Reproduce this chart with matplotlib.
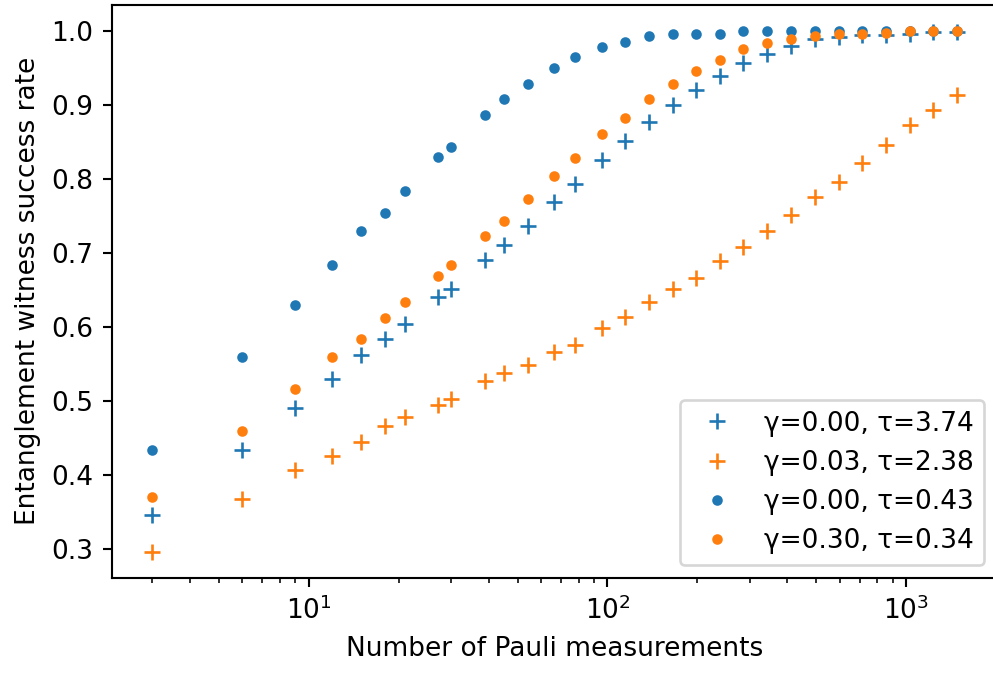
import matplotlib
matplotlib.use("Agg")
import matplotlib.pyplot as plt

# number of Pauli measurements
n_meas = [3, 6, 9, 12, 15, 18, 21, 27, 30, 39, 45, 54, 66, 78, 96, 114, 138,
          165, 198, 237, 285, 342, 411, 495, 594, 711, 855, 1026, 1230, 1479]

# success rates
rate_g000_t374 = [0.346, 0.434, 0.491, 0.530, 0.562, 0.584, 0.604, 0.640, 0.651,
                  0.690, 0.711, 0.736, 0.768, 0.793, 0.825, 0.851, 0.876, 0.900,
                  0.920, 0.939, 0.956, 0.969, 0.979, 0.988, 0.991, 0.994, 0.994,
                  0.995, 0.998, 0.998]
rate_g003_t238 = [0.296, 0.367, 0.406, 0.426, 0.445, 0.466, 0.478, 0.494, 0.502,
                  0.527, 0.538, 0.548, 0.566, 0.576, 0.598, 0.613, 0.634, 0.651,
                  0.666, 0.689, 0.708, 0.729, 0.751, 0.775, 0.796, 0.821, 0.846,
                  0.872, 0.893, 0.913]
rate_g000_t043 = [0.434, 0.559, 0.629, 0.683, 0.729, 0.754, 0.783, 0.829, 0.843,
                  0.886, 0.907, 0.928, 0.950, 0.964, 0.978, 0.985, 0.993, 0.995,
                  0.995, 0.996, 1.0, 1.0, 1.0, 1.0, 1.0, 1.0, 1.0, 1.0, 1.0, 1.0]
rate_g030_t034 = [0.370, 0.459, 0.516, 0.559, 0.583, 0.612, 0.633, 0.669, 0.683,
                  0.722, 0.743, 0.772, 0.804, 0.828, 0.861, 0.882, 0.907, 0.928,
                  0.946, 0.960, 0.975, 0.983, 0.989, 0.993, 0.996, 0.996, 0.997,
                  1.0, 1.0, 1.0]

labels = ["γ=0.00, τ=3.74", "γ=0.03, τ=2.38", "γ=0.00, τ=0.43", "γ=0.30, τ=0.34"]

dpi = 190
fig = plt.figure(figsize=(993 / dpi, 673 / dpi), dpi=dpi)
ax = fig.add_axes([112 / 993, 95 / 673, 885.5 / 993, 573.5 / 673])

ax.plot(n_meas, rate_g000_t374, '+', color='C0', label=labels[0])
ax.plot(n_meas, rate_g003_t238, '+', color='C1', label=labels[1])
ax.plot(n_meas, rate_g000_t043, '.', color='C0', label=labels[2])
ax.plot(n_meas, rate_g030_t034, '.', color='C1', label=labels[3])

ax.set_xscale('log')
ax.set_xlabel('Number of Pauli measurements')
ax.set_ylabel('Entanglement witness success rate')
ax.legend(loc='lower right')

fig.savefig('out.png', dpi=dpi)
